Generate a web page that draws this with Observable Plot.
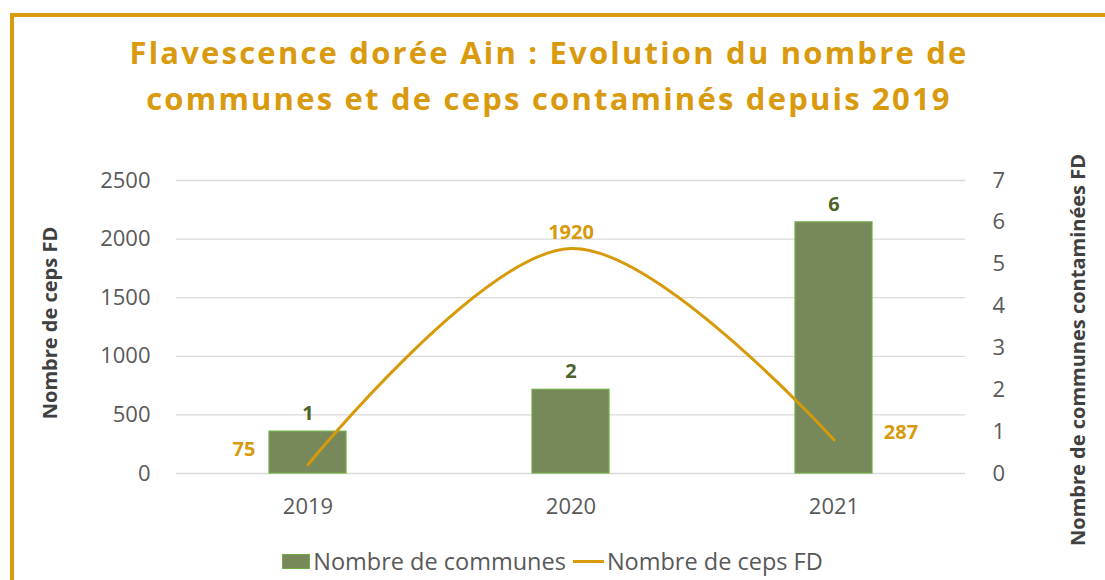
<!DOCTYPE html>
<html>
<head>
<meta charset="utf-8">
<script src="https://cdn.jsdelivr.net/npm/d3@7"></script>
<script src="https://cdn.jsdelivr.net/npm/@observablehq/plot@0.6"></script>
<style>
  html, body { margin: 0; padding: 0; background: #fff; }
  #wrap { position: relative; width: 1105px; height: 580px; overflow: hidden; font-family: "Open Sans", sans-serif; }
  #frameTop { position: absolute; left: 10px; top: 13px; width: 1095px; height: 4px; background: #D99A0D; }
  #frameLeft { position: absolute; left: 10px; top: 13px; width: 4px; height: 567px; background: #D99A0D; }
  #title { position: absolute; left: 0; top: 29px; width: 1098px; text-align: center; color: #D99A0D;
           font-weight: 700; font-size: 31px; line-height: 46px; letter-spacing: 2.2px; }
  #chart { position: absolute; left: 0; top: 0; }
  #legend { position: absolute; top: 545px; left: 0; width: 1105px; display: flex; justify-content: center;
            align-items: center; font-size: 23.5px; color: #595959; padding-left: 0px; }
  .sw-bar { width: 28px; height: 15px; background: #77885A; border: 1px solid #70AD47; box-sizing: border-box; margin-right: 3px; }
  .sw-line { width: 31px; height: 3px; background: #D69A0B; margin: 0 3px 0 7px; }
</style>
</head>
<body>
<div id="wrap">
  <div id="chart"></div>
  <div id="frameTop"></div>
  <div id="frameLeft"></div>
  <div id="title"></div>
  <div id="legend"></div>
</div>
<script>
const titleLines = ["Flavescence dorée Ain : Evolution du nombre de", "communes et de ceps contaminés depuis 2019"];
const years = ["2019", "2020", "2021"];
const communes = [1, 2, 6];
const ceps = [75, 1920, 287];
const cepsTicks = [0, 500, 1000, 1500, 2000, 2500];
const communesTicks = [0, 1, 2, 3, 4, 5, 6, 7];
const cepsMax = 2500;
const communesMax = 7;
const seriesNames = ["Nombre de communes", "Nombre de ceps FD"];
const leftLabel = "Nombre de ceps FD";
const rightLabel = "Nombre de communes contaminées FD";

const k = cepsMax / communesMax;
const data = years.map((y, i) => ({year: y, communes: communes[i], ceps: ceps[i], communesScaled: communes[i] * k}));

const lineColor = "#D69A0B";
const barFill = "#77885A";
const barStroke = "#70AD47";
const barLabel = "#4F6228";

document.getElementById("title").innerHTML = titleLines.join("<br>");

const chart = Plot.plot({
  width: 1105,
  height: 580,
  marginTop: 180,
  marginBottom: 107,
  marginLeft: 176,
  marginRight: 140,
  style: {fontFamily: "Open Sans", fontSize: "22px", color: "#595959", background: "transparent"},
  x: {domain: years, padding: 0},
  y: {domain: [0, cepsMax]},
  marks: [
    Plot.gridY(cepsTicks, {stroke: "#D9D9D9", strokeOpacity: 1, strokeWidth: 1.3}),
    Plot.axisY({anchor: "left", ticks: cepsTicks, tickFormat: d => String(d), tickSize: 0, tickPadding: 26, label: null}),
    Plot.axisY({anchor: "right", ticks: communesTicks.map(t => t * k), tickFormat: (d) => String(Math.round(d / k)), tickSize: 0, tickPadding: 27, label: null}),
    Plot.axisX({tickSize: 0, tickPadding: 25, label: null}),
    Plot.barY(data, {x: "year", y: "communesScaled", fill: barFill, stroke: barStroke, strokeWidth: 1.2, insetLeft: 93, insetRight: 93}),
    Plot.line(data, {x: "year", y: "ceps", stroke: lineColor, strokeWidth: 3, curve: "catmull-rom"}),
    Plot.text(data, {x: "year", y: "communesScaled", text: d => String(d.communes), dy: -18, fill: barLabel, fontWeight: 700, fontSize: 20}),
    Plot.text(data.filter((d, i) => i === 0), {x: "year", y: "ceps", text: d => String(d.ceps), dx: -64, dy: -15, fill: lineColor, fontWeight: 700, fontSize: 20}),
    Plot.text(data.filter((d, i) => i === 1), {x: "year", y: "ceps", text: d => String(d.ceps), dy: -16, fill: lineColor, fontWeight: 700, fontSize: 20}),
    Plot.text(data.filter((d, i) => i === 2), {x: "year", y: "ceps", text: d => String(d.ceps), dx: 67, dy: -7, fill: lineColor, fontWeight: 700, fontSize: 20}),
    Plot.text([leftLabel], {frameAnchor: "left", textAnchor: "middle", lineAnchor: "middle", text: d => d, rotate: -90, dx: -126, dy: -4, fill: "#404040", fontWeight: 700, fontSize: 20}),
    Plot.text([rightLabel], {frameAnchor: "right", textAnchor: "middle", lineAnchor: "middle", text: d => d, rotate: -90, dx: 113, dy: 23, fill: "#404040", fontWeight: 700, fontSize: 20})
  ]
});
document.getElementById("chart").appendChild(chart);

const legend = document.getElementById("legend");
legend.innerHTML = `<div class="sw-bar"></div><span>${seriesNames[0]}</span><div class="sw-line"></div><span>${seriesNames[1]}</span>`;
</script>
</body>
</html>
